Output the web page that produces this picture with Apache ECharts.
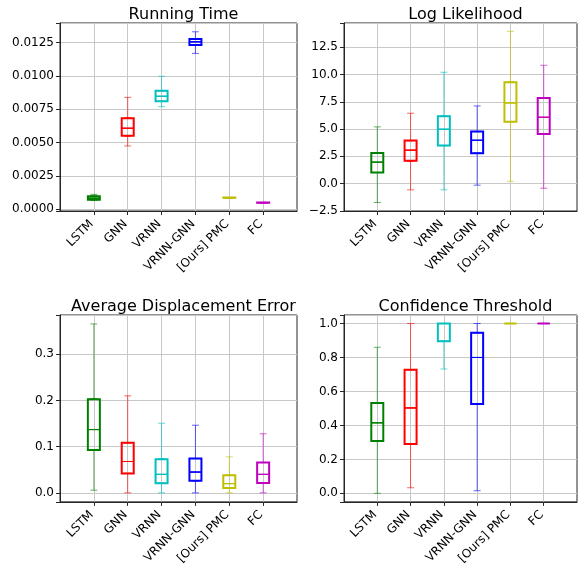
<!DOCTYPE html>
<html>
<head>
<meta charset="utf-8">
<script src="https://cdn.jsdelivr.net/npm/echarts@6/dist/echarts.min.js"></script>
<style>html,body{margin:0;padding:0;background:#fff;}#chart{width:582px;height:567px;}</style>
</head>
<body>
<div id="chart"></div>
<script>
// Categories and colours
const categories = ['LSTM', 'GNN', 'VRNN', 'VRNN-GNN', '[Ours] PMC', 'FC'];
const colors = ['#008000', '#ff0000', '#00bfbf', '#0000ff', '#bfbf00', '#bf00bf'];
const titles = ['Running Time', 'Log Likelihood', 'Average Displacement Error', 'Confidence Threshold'];

// Box statistics per category: [min, Q1, median, Q3, max]
const runningTime = [
  [0.00068, 0.00072, 0.00083, 0.00098, 0.00112],
  [0.00475, 0.00552, 0.00608, 0.00683, 0.00840],
  [0.00770, 0.00810, 0.00848, 0.00890, 0.00998],
  [0.01170, 0.01232, 0.01257, 0.01278, 0.01332],
  [0.00085, 0.00086, 0.00087, 0.00088, 0.00089],
  [0.00048, 0.00049, 0.00050, 0.00051, 0.00052]
];
const logLikelihood = [
  [-1.74, 1.01, 1.96, 2.81, 5.20],
  [-0.58, 2.08, 3.06, 3.94, 6.45],
  [-0.58, 3.48, 4.98, 6.17, 10.21],
  [-0.15, 2.78, 3.97, 4.77, 7.12],
  [0.21, 5.68, 7.40, 9.29, 13.97],
  [-0.43, 4.55, 6.08, 7.85, 10.85]
];
const ade = [
  [0.0057, 0.0929, 0.1370, 0.2029, 0.3657],
  [0.0, 0.0421, 0.0679, 0.1086, 0.2100],
  [0.0, 0.0207, 0.0400, 0.0729, 0.1507],
  [0.0, 0.0264, 0.0450, 0.0743, 0.1464],
  [0.0, 0.0107, 0.0200, 0.0379, 0.0779],
  [0.0, 0.0214, 0.0400, 0.0657, 0.1279]
];
const confidence = [
  [0.0, 0.309, 0.4155, 0.532, 0.860],
  [0.033, 0.291, 0.503, 0.728, 1.0],
  [0.732, 0.895, 1.0, 1.0, 1.0],
  [0.0155, 0.526, 0.800, 0.946, 1.0],
  [1.0, 1.0, 1.0, 1.0, 1.0],
  [1.0, 1.0, 1.0, 1.0, 1.0]
];

// Axis ranges and tick settings
const yMins = [-0.00013, -2.52, -0.0195, -0.05];
const yMaxs = [0.01398, 14.73, 0.385, 1.05];
const yIntervals = [0.0025, 2.5, 0.1, 0.2];
const yDecimals = [4, 1, 1, 1];

const datasets = [runningTime, logLikelihood, ade, confidence];
const grids = [
  {left: 60, top: 23, width: 237, height: 188},
  {left: 344, top: 23, width: 233, height: 188},
  {left: 60, top: 315, width: 237, height: 189},
  {left: 344, top: 315, width: 233, height: 189}
];

function rgba(hex, a) {
  const r = parseInt(hex.slice(1, 3), 16), g = parseInt(hex.slice(3, 5), 16), b = parseInt(hex.slice(5, 7), 16);
  return 'rgba(' + r + ',' + g + ',' + b + ',' + a + ')';
}

const xCats = [''].concat(categories).concat(['']);
const inner = function (i) { return i > 0 && i < xCats.length - 1; };

const option = {
  animation: false,
  textStyle: {fontFamily: 'DejaVu Sans'},
  title: [], grid: [], xAxis: [], yAxis: [], series: []
};

datasets.forEach(function (stats, k) {
  const g = grids[k];
  option.grid.push({left: g.left, top: g.top, width: g.width, height: g.height, show: true,
    borderColor: '#262626', borderWidth: 1, backgroundColor: 'transparent', containLabel: false});
  option.title.push({text: titles[k], left: g.left + g.width / 2, top: g.top - 21, textAlign: 'center',
    textStyle: {fontSize: 16, fontWeight: 'normal', color: '#000', fontFamily: 'DejaVu Sans'}});
  // one visible category axis + three hidden twins so the layered boxplots are not shifted side by side
  const xBase = option.xAxis.length;
  for (let t = 0; t < 4; t++) {
    option.xAxis.push({type: 'category', gridIndex: k, data: xCats, boundaryGap: false, show: t === 0,
      axisLine: {show: true, onZero: false, lineStyle: {color: '#262626', width: 1}},
      axisTick: {show: true, interval: inner, length: 4, lineStyle: {color: '#262626'}},
      splitLine: {show: t === 0, interval: inner, lineStyle: {color: '#c8c8c8', width: 1}},
      axisLabel: {interval: 0, rotate: 45, fontSize: 12, color: '#000', margin: 9, padding: [0, 3, 0, 0],
        fontFamily: 'DejaVu Sans'}});
  }
  const iv = yIntervals[k], dec = yDecimals[k];
  option.yAxis.push({type: 'value', gridIndex: k, min: yMins[k], max: yMaxs[k],
    minInterval: iv, maxInterval: iv, scale: true,
    axisLine: {show: true, onZero: false, lineStyle: {color: '#262626', width: 1}},
    axisTick: {show: true, length: 4, lineStyle: {color: '#262626'}},
    splitLine: {show: true, lineStyle: {color: '#c8c8c8', width: 1}},
    axisLabel: {fontSize: 12, color: '#000', margin: 6, fontFamily: 'DejaVu Sans',
      formatter: function (v) {
        const q = v / iv;
        if (Math.abs(q - Math.round(q)) > 1e-6) return '';
        const s = (Math.round(q) * iv).toFixed(dec);
        return s.replace('-', '\u2212');
      }}});

  const lowW = [], highW = [], box = [], med = [];
  stats.forEach(function (s, i) {
    const c = colors[i];
    lowW.push({value: [i + 1, s[0], s[1], s[1], s[1], s[1]], itemStyle: {borderColor: rgba(c, 0.6)}});
    highW.push({value: [i + 1, s[3], s[3], s[3], s[3], s[4]], itemStyle: {borderColor: rgba(c, 0.6)}});
    box.push({value: [i + 1, s[1], s[1], s[1], s[3], s[3]], itemStyle: {borderColor: c}});
    med.push({value: [i + 1, s[2], s[2], s[2], s[2], s[2]], itemStyle: {borderColor: rgba(c, 0.7)}});
  });
  const base = {type: 'boxplot', yAxisIndex: k, encode: {x: 0, y: [1, 2, 3, 4, 5]},
    emphasis: {disabled: true}, silent: true};
  option.series.push(Object.assign({}, base, {name: 'lw' + k, xAxisIndex: xBase, data: lowW, boxWidth: [7, 7], z: 2,
    itemStyle: {color: 'transparent', borderWidth: 1}}));
  option.series.push(Object.assign({}, base, {name: 'hw' + k, xAxisIndex: xBase + 1, data: highW, boxWidth: [7, 7], z: 2,
    itemStyle: {color: 'transparent', borderWidth: 1}}));
  option.series.push(Object.assign({}, base, {name: 'bx' + k, xAxisIndex: xBase + 2, data: box, boxWidth: [12, 12], z: 3,
    itemStyle: {color: 'transparent', borderWidth: 2}}));
  option.series.push(Object.assign({}, base, {name: 'md' + k, xAxisIndex: xBase + 3, data: med, boxWidth: [12, 12], z: 4,
    itemStyle: {color: 'transparent', borderWidth: 1}}));
});

const chart = echarts.init(document.getElementById('chart'), null, {renderer: 'canvas'});
chart.setOption(option);
</script>
</body>
</html>
